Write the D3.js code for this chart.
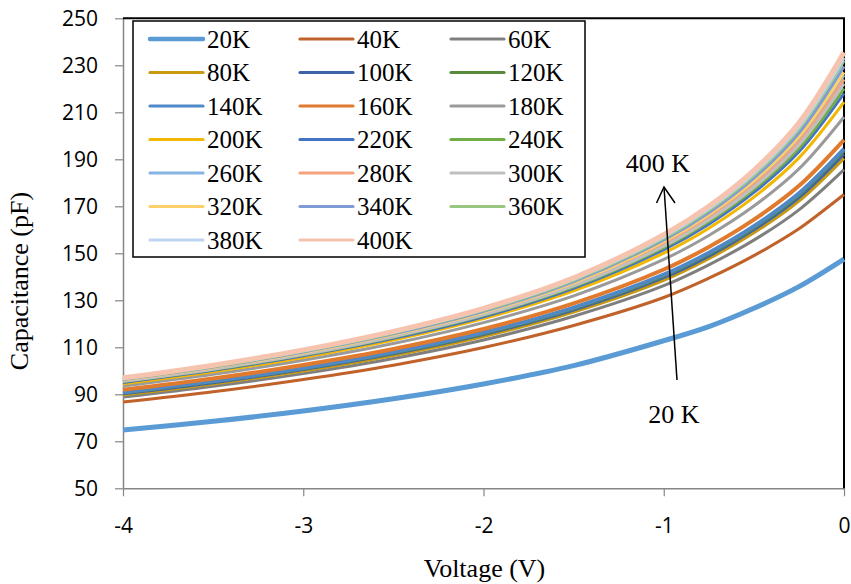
<!DOCTYPE html>
<html>
<head>
<meta charset="utf-8">
<script src="https://cdn.jsdelivr.net/npm/d3@7/dist/d3.min.js"></script>
<style>
html,body{margin:0;padding:0;background:#fff;}
svg{display:block;}
</style>
</head>
<body>
<svg id="chart" width="851" height="584"></svg>
<script>
// ---------- DATA ----------
const voltages = [-4, -3.5, -3, -2.5, -2, -1.5, -1, -0.75, -0.5, -0.25, 0];
const seriesNames = ["20K","40K","60K","80K","100K","120K","140K","160K","180K","200K",
                     "220K","240K","260K","280K","300K","320K","340K","360K","380K","400K"];
const c20K  = [74.8, 78.5, 82.9, 88.1, 94.4, 102.2, 112.8, 118.8, 126.6, 135.8, 147.5];
const c40K  = [86.7, 91.1, 96.3, 102.4, 109.9, 119.3, 131.2, 139.4, 149.0, 160.4, 175.0];
const c60K  = [88.8, 93.4, 98.8, 105.2, 113.1, 123.2, 136.2, 145.1, 155.6, 168.5, 185.6];
const c80K  = [89.7, 94.4, 99.9, 106.5, 114.6, 125.0, 138.5, 147.7, 158.7, 172.2, 190.4];
const c100K = [90.2, 94.9, 100.5, 107.2, 115.4, 125.8, 139.6, 148.8, 160.0, 173.7, 192.2];
const c120K = [90.5, 95.3, 100.9, 107.6, 115.8, 126.4, 140.3, 149.6, 160.8, 174.7, 193.5];
const c140K = [90.8, 95.6, 101.2, 108.0, 116.3, 126.9, 140.9, 150.2, 161.5, 175.5, 194.4];
const c160K = [91.9, 96.7, 102.5, 109.3, 117.8, 128.7, 143.1, 152.7, 164.3, 178.7, 198.3];
const c180K = [93.5, 98.5, 104.5, 111.6, 120.5, 131.9, 147.4, 157.6, 170.1, 185.9, 208.0];
const c200K = [94.5, 99.6, 105.7, 113.1, 122.2, 134.0, 150.1, 160.7, 173.9, 190.6, 214.3];
const c220K = [95.0, 100.2, 106.4, 113.8, 123.0, 135.1, 151.6, 162.4, 175.9, 193.2, 218.0];
const c240K = [95.4, 100.5, 106.8, 114.3, 123.6, 135.7, 152.4, 163.4, 177.2, 194.7, 220.1];
const c260K = [96.0, 101.2, 107.6, 115.2, 124.7, 137.2, 154.5, 165.9, 180.2, 198.7, 225.8];
const c280K = [95.7, 100.9, 107.2, 114.8, 124.2, 136.6, 153.7, 165.0, 179.1, 197.4, 224.0];
const c300K = [95.5, 100.7, 106.9, 114.5, 123.8, 136.1, 153.0, 164.2, 178.1, 196.1, 222.2];
const c320K = [96.1, 101.4, 107.7, 115.4, 124.9, 137.4, 154.9, 166.4, 180.8, 199.6, 227.0];
const c340K = [96.3, 101.6, 108.0, 115.7, 125.3, 138.0, 155.7, 167.3, 182.0, 201.2, 229.5];
const c360K = [96.5, 101.8, 108.3, 116.1, 125.7, 138.5, 156.4, 168.3, 183.2, 202.9, 231.9];
const c380K = [96.7, 102.1, 108.5, 116.4, 126.1, 138.9, 157.0, 168.9, 184.0, 203.8, 233.1];
const c400K = [97.0, 102.4, 108.9, 116.8, 126.6, 139.6, 157.9, 170.0, 185.3, 205.5, 235.5];
const seriesValues = [c20K,c40K,c60K,c80K,c100K,c120K,c140K,c160K,c180K,c200K,
                      c220K,c240K,c260K,c280K,c300K,c320K,c340K,c360K,c380K,c400K];
const xTicks = [-4, -3, -2, -1, 0];
const yTicks = [50, 70, 90, 110, 130, 150, 170, 190, 210, 230, 250];
const xTitle = "Voltage (V)";
const yTitle = "Capacitance (pF)";
const annoTop = "400 K";
const annoBottom = "20 K";

// ---------- STYLE ----------
const colors = ["#5B9BD5","#C0622A","#7F7F7F","#C89A12","#3F62A8","#588A3A","#4F88C6","#E07A2E","#9A9A9A","#F2B700",
                "#4472C4","#70AD47","#85B3E2","#F4A27C","#BFBFBF","#FFD06A","#7F9BD6","#9AC77F","#BDD5EE","#F6C3AE"];
const widths = [5,3,3,3,3,3,4,4,3,3, 3,3,3,3,3,3,3,3,3,5];

const svg = d3.select("#chart");
const L = 123, R = 844, T = 18.3, B = 488.3;
const x = d3.scaleLinear().domain([-4, 0]).range([L, R]);
const y = d3.scaleLinear().domain([50, 250]).range([B, T]);

// axes
const yAxis = svg.append("g").attr("transform", `translate(${L},0)`)
  .call(d3.axisLeft(y).tickValues(yTicks).tickSize(8).tickSizeOuter(0).tickPadding(6));
const xAxis = svg.append("g").attr("transform", `translate(0,${B})`)
  .call(d3.axisBottom(x).tickValues(xTicks).tickSize(8).tickSizeOuter(0).tickPadding(22)
        .tickFormat(d3.format("d")));
[yAxis, xAxis].forEach(g => {
  g.select(".domain").attr("stroke", "#868686").attr("stroke-width", 1.5);
  g.selectAll(".tick line").attr("stroke", "#868686").attr("stroke-width", 1.2);
  g.selectAll(".tick text").attr("fill", "#000")
   .style("font-family", "'Open Sans', sans-serif").style("font-size", "21px");
});
xAxis.selectAll(".tick text").attr("dy", "0.71em");
yAxis.selectAll(".tick text").attr("dy", "0.36em").attr("x", -25);
xAxis.selectAll(".tick text").text(d => String(d));

// top and right border
svg.append("line").attr("x1", L).attr("x2", R + 1).attr("y1", T).attr("y2", T)
  .attr("stroke", "#000").attr("stroke-width", 2);
svg.append("line").attr("x1", R).attr("x2", R).attr("y1", T).attr("y2", B)
  .attr("stroke", "#000").attr("stroke-width", 2);

// series
const line = d3.line().x((d, i) => x(voltages[i])).y(d => y(d)).curve(d3.curveCatmullRom.alpha(0.5));
const plot = svg.append("g");
seriesValues.forEach((vals, k) => {
  plot.append("path").datum(vals).attr("d", line)
    .attr("fill", "none").attr("stroke", colors[k]).attr("stroke-width", widths[k])
    .attr("stroke-linejoin", "round");
});

// legend
const lg = svg.append("g");
lg.append("rect").attr("x", 133).attr("y", 21).attr("width", 452).attr("height", 236)
  .attr("fill", "#fff").attr("stroke", "#000").attr("stroke-width", 1.5);
const colX = [150, 300, 451];
seriesNames.forEach((name, k) => {
  const col = k % 3, row = Math.floor(k / 3);
  const cy = 39 + row * 33.5;
  lg.append("line").attr("x1", colX[col]).attr("x2", colX[col] + 53)
    .attr("y1", cy).attr("y2", cy)
    .attr("stroke", colors[k]).attr("stroke-width", k === 0 ? 4.5 : 3.2)
    .attr("stroke-linecap", "round");
  lg.append("text").attr("x", colX[col] + 57).attr("y", cy + 8.5)
    .style("font-family", "'Liberation Serif', 'Times New Roman', serif")
    .style("font-size", "25px").attr("fill", "#000").text(name);
});

// axis titles
svg.append("text").attr("x", (L + R) / 2 + 1).attr("y", 577).attr("text-anchor", "middle")
  .style("font-family", "'Liberation Serif', 'Times New Roman', serif").style("font-size", "26px")
  .text(xTitle);
svg.append("text").attr("transform", "translate(28,281) rotate(-90)").attr("text-anchor", "middle")
  .style("font-family", "'Liberation Serif', 'Times New Roman', serif").style("font-size", "26px")
  .text(yTitle);

// annotation arrow
svg.append("line").attr("x1", 677).attr("y1", 380).attr("x2", 664).attr("y2", 187)
  .attr("stroke", "#000").attr("stroke-width", 1.5);
svg.append("path").attr("d", "M656.5,203 L664,187 L675,203").attr("fill", "none")
  .attr("stroke", "#000").attr("stroke-width", 1.5);
svg.append("text").attr("x", 658).attr("y", 172).attr("text-anchor", "middle")
  .style("font-family", "'Liberation Serif', 'Times New Roman', serif").style("font-size", "26px")
  .text(annoTop);
svg.append("text").attr("x", 674).attr("y", 423).attr("text-anchor", "middle")
  .style("font-family", "'Liberation Serif', 'Times New Roman', serif").style("font-size", "26px")
  .text(annoBottom);
</script>
</body>
</html>
